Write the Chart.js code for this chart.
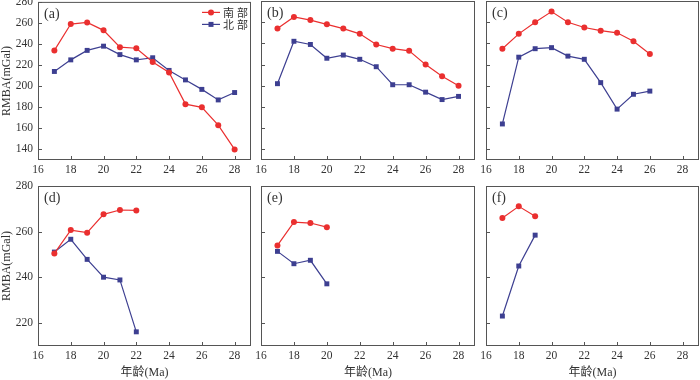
<!DOCTYPE html>
<html>
<head>
<meta charset="utf-8">
<script src="https://cdn.jsdelivr.net/npm/chart.js@4.4.0/dist/chart.umd.min.js"></script>
<style>
  html, body { margin: 0; padding: 0; background: #fff; }
  #wrap { position: relative; width: 700px; height: 380px; overflow: hidden; }
  #wrap canvas { position: absolute; }
</style>
</head>
<body>
<div id="wrap"></div>
<script>
// ---- data ----
const seriesNames = ['南部', '北部'];
const xTicks = [16, 18, 20, 22, 24, 26, 28];
const yTicksTop = [140, 160, 180, 200, 220, 240, 260, 280];
const yTicksBottom = [220, 240, 260, 280];

const agesA = [17, 18, 19, 20, 21, 22, 23, 24, 25, 26, 27, 28];
const southA = [234, 259, 260.5, 253, 237, 236, 223, 213, 183, 180, 163, 140];
const northA = [214, 225, 234, 238, 230, 225, 227, 215, 206, 197, 187, 194];

const agesB = [17, 18, 19, 20, 21, 22, 23, 24, 25, 26, 27, 28];
const southB = [254, 265, 262, 258, 254, 249, 239, 235, 233, 220, 209, 200];
const northB = [202, 242, 239, 226, 229, 225, 218, 201, 201, 194, 187, 190];

const agesC = [17, 18, 19, 20, 21, 22, 23, 24, 25, 26];
const southC = [235, 249, 260, 270, 260, 255, 252, 250, 242, 230];
const northC = [164, 227, 235, 236, 228, 225, 203, 178, 192, 195];

const agesD = [17, 18, 19, 20, 21, 22];
const southD = [250.5, 260.7, 259.6, 267.6, 269.5, 269.3];
const northD = [251.1, 256.7, 247.9, 240.1, 238.9, 216.2];

const agesE = [17, 18, 19, 20];
const southE = [254, 264.2, 263.8, 262];
const northE = [251.4, 246, 247.5, 237.2];

const agesF = [17, 18, 19];
const southF = [266, 271.1, 266.8];
const northF = [223.1, 245, 258.5];

// ---- styles ----
const RED = '#ea2f2f';
const BLUE = '#3d3f91';
const FRAME = '#555';
const TEXT = '#333';
const SERIF = "'Liberation Serif', 'Times New Roman', 'Noto Sans CJK SC', serif";

// frame, inward ticks, panel letter and legend
const panelDeco = {
    id: 'panelDeco',
    afterDraw(chart, args, opts) {
        const { ctx, chartArea: a, scales } = chart;
        ctx.save();
        ctx.strokeStyle = FRAME;
        ctx.lineWidth = 1;
        ctx.strokeRect(a.left + 0.5, a.top + 0.5, a.width - 1, a.height - 1);

        ctx.beginPath();
        scales.x.ticks.forEach(t => {
            const px = Math.round(scales.x.getPixelForValue(t.value)) + 0.5;
            ctx.moveTo(px, a.bottom);
            ctx.lineTo(px, a.bottom - 4);
        });
        scales.y.ticks.forEach(t => {
            const py = Math.round(scales.y.getPixelForValue(t.value)) + 0.5;
            ctx.moveTo(a.left, py);
            ctx.lineTo(a.left + 4, py);
        });
        ctx.stroke();

        // panel letter
        ctx.fillStyle = TEXT;
        ctx.font = '14px ' + SERIF;
        ctx.textBaseline = 'middle';
        ctx.textAlign = 'left';
        ctx.fillText(opts.tag, a.left + 6, a.top + 12);

        // legend
        if (opts.legend) {
            chart.data.datasets.forEach((ds, i) => {
                const y = a.top + 10.5 + i * 12;
                const x0 = a.right - 49;
                ctx.strokeStyle = ds.borderColor;
                ctx.lineWidth = 1.2;
                ctx.beginPath();
                ctx.moveTo(x0, y);
                ctx.lineTo(x0 + 18, y);
                ctx.stroke();
                ctx.fillStyle = ds.borderColor;
                if (ds.pointStyle === 'rect') {
                    ctx.fillRect(x0 + 6.5, y - 2.5, 5, 5);
                } else {
                    ctx.beginPath();
                    ctx.arc(x0 + 9, y, 3, 0, Math.PI * 2);
                    ctx.fill();
                }
                ctx.fillStyle = TEXT;
                ctx.font = "11px 'Noto Sans CJK SC', sans-serif";
                const chars = ds.label.split('');
                chars.forEach((c, k) => ctx.fillText(c, x0 + 21 + k * 14, y));
            });
        }
        ctx.restore();
    }
};

function points(ages, vals) {
    return ages.map((a, i) => ({ x: a, y: vals[i] }));
}

function makePanel(p) {
    const wrap = document.getElementById('wrap');
    const L = p.yLabels ? 38 : 16;
    const R = 12;
    const top = p.row === 0 ? -10 : 170;
    const bottom = p.row === 0 ? 180 : 380;
    const T = p.area.top - top;
    const B = bottom - p.area.bottom;
    const left = p.area.left - L;
    const width = p.area.right + R - left;
    const height = bottom - top;

    const canvas = document.createElement('canvas');
    canvas.width = width;
    canvas.height = height;
    canvas.style.left = left + 'px';
    canvas.style.top = top + 'px';
    canvas.style.width = width + 'px';
    canvas.style.height = height + 'px';
    wrap.appendChild(canvas);

    const tickFont = { family: SERIF, size: 11.5 };
    const titleFont = { family: SERIF, size: 12 };

    new Chart(canvas.getContext('2d'), {
        type: 'line',
        data: {
            datasets: [
                {
                    label: seriesNames[0],
                    data: points(p.ages, p.south),
                    borderColor: RED,
                    backgroundColor: RED,
                    borderWidth: 1.2,
                    pointStyle: 'circle',
                    pointRadius: 3,
                    pointBorderWidth: 0,
                    tension: 0
                },
                {
                    label: seriesNames[1],
                    data: points(p.ages, p.north),
                    borderColor: BLUE,
                    backgroundColor: BLUE,
                    borderWidth: 1.2,
                    pointStyle: 'rect',
                    pointRadius: 3.5,
                    pointBorderWidth: 0,
                    tension: 0
                }
            ]
        },
        options: {
            responsive: false,
            maintainAspectRatio: false,
            animation: false,
            layout: { padding: { left: 0, right: R, top: T, bottom: 0 } },
            plugins: {
                legend: { display: false },
                tooltip: { enabled: false },
                panelDeco: { tag: p.tag, legend: !!p.legend }
            },
            scales: {
                x: {
                    type: 'linear',
                    min: 16,
                    max: 29,
                    afterBuildTicks: s => { s.ticks = xTicks.map(v => ({ value: v })); },
                    afterFit: s => { s.height = B; },
                    grid: { display: false, drawTicks: false },
                    border: { display: false },
                    ticks: { font: tickFont, color: TEXT, padding: 3, maxRotation: 0 },
                    title: {
                        display: !!p.xTitle,
                        text: '年龄(Ma)',
                        font: titleFont,
                        color: TEXT,
                        padding: { top: 0, bottom: 0 }
                    }
                },
                y: {
                    min: p.yMin,
                    max: p.yMax,
                    afterBuildTicks: s => { s.ticks = p.yTicks.map(v => ({ value: v })); },
                    afterFit: s => { s.width = L; },
                    grid: { display: false, drawTicks: false },
                    border: { display: false },
                    ticks: { display: !!p.yLabels, font: tickFont, color: TEXT, padding: 5 },
                    title: {
                        display: !!p.yLabels,
                        text: 'RMBA(mGal)',
                        font: titleFont,
                        color: TEXT,
                        padding: { top: 0, bottom: 0 }
                    }
                }
            }
        },
        plugins: [panelDeco]
    });
}

const cols = [
    { left: 38, right: 251 },
    { left: 261, right: 475 },
    { left: 486, right: 699 }
];
const rows = [
    { top: 1, bottom: 160 },
    { top: 186, bottom: 346 }
];

const panels = [
    { tag: '(a)', r: 0, c: 0, ages: agesA, south: southA, north: northA, legend: true },
    { tag: '(b)', r: 0, c: 1, ages: agesB, south: southB, north: northB },
    { tag: '(c)', r: 0, c: 2, ages: agesC, south: southC, north: northC },
    { tag: '(d)', r: 1, c: 0, ages: agesD, south: southD, north: northD },
    { tag: '(e)', r: 1, c: 1, ages: agesE, south: southE, north: northE },
    { tag: '(f)', r: 1, c: 2, ages: agesF, south: southF, north: northF }
];

panels.forEach(p => {
    const top = p.r === 0;
    makePanel({
        tag: p.tag,
        row: p.r,
        ages: p.ages,
        south: p.south,
        north: p.north,
        legend: p.legend,
        area: {
            left: cols[p.c].left, right: cols[p.c].right,
            top: rows[p.r].top, bottom: rows[p.r].bottom
        },
        yMin: top ? 130 : 210,
        yMax: 280,
        yTicks: top ? yTicksTop : yTicksBottom,
        yLabels: p.c === 0,
        xTitle: p.r === 1
    });
});
</script>
</body>
</html>
